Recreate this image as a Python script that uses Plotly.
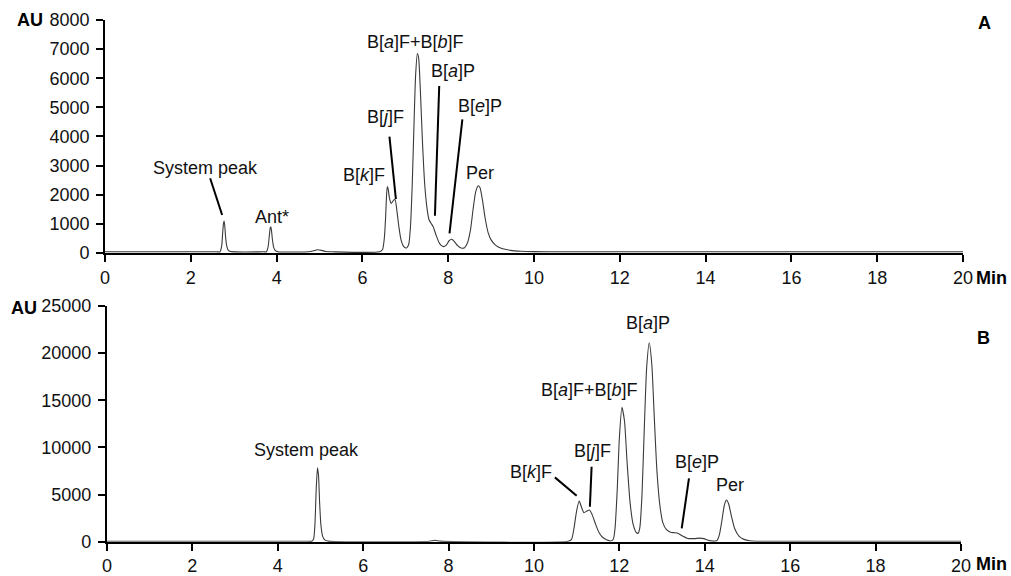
import plotly.graph_objects as go

# Chromatogram A: retention time (min) and detector response (AU)
time_a = [0.0, 2.60, 2.68, 2.72, 2.74, 2.76, 2.775, 2.79, 2.81, 2.84, 2.88, 2.95,
          3.70, 3.76, 3.80, 3.83, 3.85, 3.865, 3.88, 3.90, 3.93, 3.97, 4.03,
          4.75, 4.85, 4.95, 5.05, 5.15, 5.30,
          6.40, 6.47, 6.51, 6.54, 6.56, 6.58, 6.60, 6.63, 6.67, 6.72, 6.76, 6.80,
          6.85, 6.90, 6.96, 7.03, 7.08, 7.12, 7.16, 7.20, 7.24, 7.28, 7.31, 7.35,
          7.40, 7.45, 7.50, 7.55, 7.60, 7.65, 7.72, 7.80, 7.88, 7.95, 8.02, 8.08,
          8.14, 8.22, 8.30, 8.38, 8.45, 8.52, 8.58, 8.64, 8.70, 8.74, 8.80, 8.86,
          8.93, 9.00, 9.10, 9.25, 9.45, 9.70, 10.0, 10.5, 20.0]
au_a = [40, 40, 40, 250, 650, 1000, 1100, 950, 550, 220, 80, 45,
        40, 40, 200, 600, 850, 900, 780, 480, 200, 80, 45,
        40, 70, 110, 90, 50, 40,
        40, 120, 500, 1200, 1900, 2280, 2200, 1880, 1700, 1800, 1840, 1500,
        900, 450, 230, 170, 300, 900, 2300, 4300, 6100, 6850, 6700, 5600,
        3800, 2400, 1600, 1150, 1020, 900, 600, 320, 220, 260, 420, 470,
        400, 250, 170, 180, 350, 800, 1500, 2100, 2310, 2250, 1800, 1200,
        700, 450, 270, 150, 90, 60, 45, 40, 40]

# Chromatogram B
time_b = [0.0, 4.70, 4.80, 4.84, 4.87, 4.90, 4.93, 4.955, 4.98, 5.01, 5.05, 5.10, 5.18,
          7.55, 7.68, 7.80,
          10.80, 10.88, 10.94, 11.00, 11.06, 11.11, 11.17, 11.24, 11.30, 11.36, 11.44,
          11.52, 11.60, 11.70, 11.80, 11.86, 11.90, 11.95, 12.00, 12.06, 12.12, 12.18,
          12.25, 12.32, 12.40, 12.44, 12.48, 12.53, 12.58, 12.64, 12.70, 12.76, 12.82,
          12.88, 12.95, 13.02, 13.10, 13.20, 13.30, 13.38, 13.48, 13.60, 13.75, 13.88,
          13.98, 14.08, 14.20, 14.28, 14.34, 14.40, 14.46, 14.51, 14.56, 14.62, 14.70,
          14.80, 14.92, 15.05, 15.20, 20.0]
au_b = [50, 50, 50, 300, 1800, 5500, 7850, 7000, 4200, 1800, 600, 200, 60,
        50, 150, 60,
        50, 250, 1500, 3300, 4320, 3700, 3080, 3250, 3360, 2900, 1900,
        1000, 500, 200, 80, 300, 1500, 5500, 11000, 14250, 12800, 8500,
        4200, 1900, 950, 900, 1500, 5000, 11500, 18500, 21100, 18800, 13000,
        7500, 3800, 2000, 1300, 1000, 950, 880, 600, 350, 330, 380,
        330, 150, 60, 100, 700, 2200, 3900, 4420, 4000, 2800, 1400,
        600, 250, 100, 55, 50]

x_ticks = [0, 2, 4, 6, 8, 10, 12, 14, 16, 18, 20]
y_ticks_a = [0, 1000, 2000, 3000, 4000, 5000, 6000, 7000, 8000]
y_ticks_b = [0, 5000, 10000, 15000, 20000, 25000]

# Peak labels: (text, label x, label y, leader start, leader end) in data units
labels_a = [
    ("System peak", 2.35, 2918, (2.45, 2564), (2.73, 1305)),
    ("Ant*", 3.90, 1236, None, None),
    ("B[<i>k</i>]F", 6.03, 2678, None, None),
    ("B[<i>j</i>]F", 6.53, 4659, (6.63, 3993), (6.78, 1854)),
    ("B[<i>a</i>]F+B[<i>b</i>]F", 7.23, 7233, None, None),
    ("B[<i>a</i>]P", 8.12, 6258, (7.79, 5733), (7.69, 1280)),
    ("B[<i>e</i>]P", 8.74, 5047, (8.33, 4590), (8.03, 676)),
    ("Per", 8.74, 2736, None, None),
]
labels_b = [
    ("System peak", 4.68, 9720, None, None),
    ("B[<i>k</i>]F", 9.93, 7390, (10.49, 6826), (11.00, 4876)),
    ("B[<i>j</i>]F", 11.36, 9614, (11.35, 7950), (11.31, 3710)),
    ("B[<i>a</i>]F+B[<i>b</i>]F", 11.29, 16080, None, None),
    ("B[<i>a</i>]P", 12.66, 23150, None, None),
    ("B[<i>e</i>]P", 13.81, 8480, (13.63, 6720), (13.46, 1420)),
    ("Per", 14.58, 6010, None, None),
]

FONT = "Liberation Sans, Arial, sans-serif"
TXT = "#111111"
LINE = "#3a3a3a"
FS = 18

fig = go.Figure()
fig.add_trace(go.Scatter(x=time_a, y=au_a, mode="lines", xaxis="x", yaxis="y",
                         line=dict(color=LINE, width=1.1, shape="spline", smoothing=0.6),
                         showlegend=False, hoverinfo="skip"))
fig.add_trace(go.Scatter(x=time_b, y=au_b, mode="lines", xaxis="x2", yaxis="y2",
                         line=dict(color=LINE, width=1.1, shape="spline", smoothing=0.6),
                         showlegend=False, hoverinfo="skip"))

axis_common = dict(showgrid=False, zeroline=False, showline=True, linecolor="#000000",
                   linewidth=2, ticks="outside", ticklen=7, tickwidth=2, tickcolor="#000000",
                   tickfont=dict(family=FONT, size=FS, color=TXT), automargin=False,
                   tickformat="d", fixedrange=True)

fig.update_layout(
    width=1011, height=576,
    margin=dict(l=0, r=0, t=0, b=0),
    paper_bgcolor="white", plot_bgcolor="white",
    xaxis=dict(domain=[0.1039, 0.9525], range=[0, 20], tickvals=x_ticks, anchor="y", **axis_common),
    yaxis=dict(domain=[0.5608, 0.9653], range=[0, 8000], tickvals=y_ticks_a, anchor="x",
               ticklabelstandoff=3, **axis_common),
    xaxis2=dict(domain=[0.1058, 0.9505], range=[0, 20], tickvals=x_ticks, anchor="y2", **axis_common),
    yaxis2=dict(domain=[0.0595, 0.4688], range=[0, 25000], tickvals=y_ticks_b, anchor="x2",
                ticklabelstandoff=3, **axis_common),
)

annotations = []
shapes = []
for labels, xr, yr in ((labels_a, "x", "y"), (labels_b, "x2", "y2")):
    for text, lx, ly, p0, p1 in labels:
        annotations.append(dict(text=text, x=lx, y=ly, xref=xr, yref=yr, showarrow=False,
                                xanchor="center", yanchor="middle",
                                font=dict(family=FONT, size=FS, color=TXT)))
        if p0 is not None:
            shapes.append(dict(type="line", xref=xr, yref=yr, x0=p0[0], y0=p0[1],
                               x1=p1[0], y1=p1[1], line=dict(color="#000000", width=2)))

bold = dict(family=FONT, size=FS, color="#000000")
for text, x, y in (("<b>A</b>", 0.9733, 0.9595), ("<b>B</b>", 0.9726, 0.4127),
                   ("<b>AU</b>", 0.0297, 0.9653), ("<b>AU</b>", 0.0240, 0.4648),
                   ("<b>Min</b>", 0.9812, 0.5179), ("<b>Min</b>", 0.9812, 0.0200)):
    annotations.append(dict(text=text, x=x, y=y, xref="paper", yref="paper", showarrow=False,
                            xanchor="center", yanchor="middle", font=bold))

fig.update_layout(annotations=annotations, shapes=shapes)
fig.write_html("out.html")
